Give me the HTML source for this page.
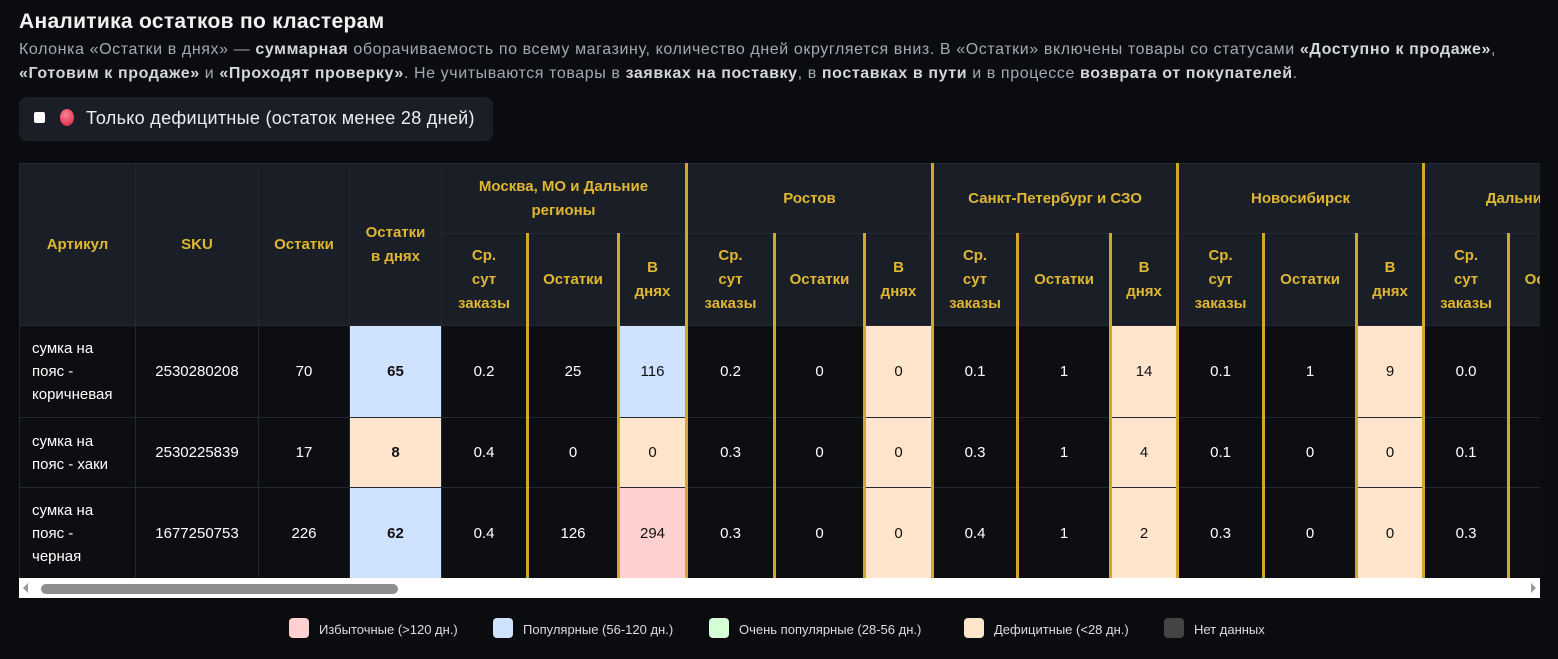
<!DOCTYPE html>
<html><head><meta charset="utf-8"><style>
body{margin:0;width:1558px;height:659px;background:#0b0c10;font-family:"Liberation Sans","Noto Sans CJK SC",sans-serif;color:#fff;overflow:hidden;position:relative}
h1{position:absolute;left:19px;top:10px;margin:0;font-size:21px;letter-spacing:0.3px;font-weight:bold;color:#f2f2f2;white-space:nowrap}
.desc{position:absolute;left:19px;top:38px;width:1540px;font-size:16px;letter-spacing:0.6px;line-height:24px;color:#a3a8b3;white-space:nowrap}
.desc b{color:#d3d6dc}
.filter{position:absolute;left:19px;top:97px;width:474px;height:44px;background:#1b1e26;border-radius:8px;font-size:18px;letter-spacing:0.3px;color:#eee}
.cb{position:absolute;left:15px;top:15px;width:11px;height:11px;background:#fff;border-radius:2px}
.dot{position:absolute;left:41px;top:12px;width:14px;height:17px;border-radius:50%;background:radial-gradient(circle at 40% 35%,#ff8090,#d0203a)}
.filter span{position:absolute;left:67px;top:11px;white-space:nowrap}
.wrap{position:absolute;left:19px;top:163px;width:1521px;height:415px;overflow:hidden;background:#0c0e12}
table{border-collapse:collapse;table-layout:fixed;position:absolute;left:0;top:0;width:1649px}
td,th{border:1px solid #232832;text-align:center;padding:0;font-size:15px}
th{background:#1a1e26;color:#e0b732;font-size:15px;font-weight:bold;line-height:24px}
td{color:#fff;background:#0c0e12}
td.l{text-align:left;padding-left:12px;line-height:23px}
.g{border-left:3px solid #d4a72c}
.b{background:#cfe2ff;color:#111}.p{background:#ffe5cc;color:#111}.r{background:#ffd0d0;color:#111}
.bold{font-weight:bold}
.sb{position:absolute;left:19px;top:578px;width:1521px;height:20px;background:#fff}
.thumb{position:absolute;left:22px;top:6px;width:357px;height:10px;background:#8e8e8e;border-radius:5px}
.legend{position:absolute;top:618px;left:0;width:1558px;font-size:13px;color:#ddd}
.li{position:absolute;top:0}
.sw{position:absolute;top:0;width:20px;height:20px;border-radius:4px}
.li span{position:absolute;left:30px;top:4px;white-space:nowrap}
</style></head><body>
<h1>Аналитика остатков по кластерам</h1>
<div class="desc">Колонка «Остатки в днях» — <b>суммарная</b> оборачиваемость по всему магазину, количество дней округляется вниз. В «Остатки» включены товары со статусами <b>«Доступно к продаже»</b>,<br><b>«Готовим к продаже»</b> и <b>«Проходят проверку»</b>. Не учитываются товары в <b>заявках на поставку</b>, в <b>поставках в пути</b> и в процессе <b>возврата от покупателей</b>.</div>
<div class="filter"><div class="cb"></div><div class="dot"></div><span>Только дефицитные (остаток менее 28 дней)</span></div>
<div class="wrap"><table>
<colgroup><col style="width:116px"><col style="width:123px"><col style="width:91px"><col style="width:92px"><col style="width:86px"><col style="width:91px"><col style="width:68px"><col style="width:88px"><col style="width:90px"><col style="width:68px"><col style="width:85px"><col style="width:93px"><col style="width:67px"><col style="width:86px"><col style="width:93px"><col style="width:67px"><col style="width:85px"><col style="width:92px"><col style="width:68px"></colgroup>
<tr style="height:70px"><th rowspan="2">Артикул</th><th rowspan="2">SKU</th><th rowspan="2">Остатки</th><th rowspan="2">Остатки<br>в днях</th><th colspan="3">Москва, МО и Дальние<br>регионы</th><th colspan="3" class="g">Ростов</th><th colspan="3" class="g">Санкт-Петербург и СЗО</th><th colspan="3" class="g">Новосибирск</th><th colspan="3" class="g">Дальний Восток</th></tr>
<tr style="height:92px"><th>Ср.<br>сут<br>заказы</th><th class="g">Остатки</th><th class="g">В<br>днях</th><th class="g">Ср.<br>сут<br>заказы</th><th class="g">Остатки</th><th class="g">В<br>днях</th><th class="g">Ср.<br>сут<br>заказы</th><th class="g">Остатки</th><th class="g">В<br>днях</th><th class="g">Ср.<br>сут<br>заказы</th><th class="g">Остатки</th><th class="g">В<br>днях</th><th class="g">Ср.<br>сут<br>заказы</th><th class="g">Остатки</th><th class="g">В<br>днях</th></tr>
<tr style="height:92px"><td class="l">сумка на<br>пояс -<br>коричневая</td><td>2530280208</td><td>70</td><td class="b bold">65</td><td>0.2</td><td class="g">25</td><td class="g b">116</td><td class="g">0.2</td><td class="g">0</td><td class="g p">0</td><td class="g">0.1</td><td class="g">1</td><td class="g p">14</td><td class="g">0.1</td><td class="g">1</td><td class="g p">9</td><td class="g">0.0</td><td class="g"></td><td class="g"></td></tr>
<tr style="height:70px"><td class="l">сумка на<br>пояс - хаки</td><td>2530225839</td><td>17</td><td class="p bold">8</td><td>0.4</td><td class="g">0</td><td class="g p">0</td><td class="g">0.3</td><td class="g">0</td><td class="g p">0</td><td class="g">0.3</td><td class="g">1</td><td class="g p">4</td><td class="g">0.1</td><td class="g">0</td><td class="g p">0</td><td class="g">0.1</td><td class="g"></td><td class="g"></td></tr>
<tr style="height:92px"><td class="l">сумка на<br>пояс -<br>черная</td><td>1677250753</td><td>226</td><td class="b bold">62</td><td>0.4</td><td class="g">126</td><td class="g r">294</td><td class="g">0.3</td><td class="g">0</td><td class="g p">0</td><td class="g">0.4</td><td class="g">1</td><td class="g p">2</td><td class="g">0.3</td><td class="g">0</td><td class="g p">0</td><td class="g">0.3</td><td class="g"></td><td class="g"></td></tr>
</table></div>
<div class="sb"><div class="thumb"></div><div style="position:absolute;left:4px;top:5px;width:0;height:0;border-top:5px solid transparent;border-bottom:5px solid transparent;border-right:5px solid #999"></div><div style="position:absolute;right:4px;top:5px;width:0;height:0;border-top:5px solid transparent;border-bottom:5px solid transparent;border-left:5px solid #999"></div></div>
<div class="legend">
<div class="li" style="left:289px"><div class="sw" style="background:#ffd0d0"></div><span>Избыточные (&gt;120 дн.)</span></div>
<div class="li" style="left:493px"><div class="sw" style="background:#cfe2ff"></div><span>Популярные (56-120 дн.)</span></div>
<div class="li" style="left:709px"><div class="sw" style="background:#d4ffd4"></div><span>Очень популярные (28-56 дн.)</span></div>
<div class="li" style="left:964px"><div class="sw" style="background:#ffe5cc"></div><span>Дефицитные (&lt;28 дн.)</span></div>
<div class="li" style="left:1164px"><div class="sw" style="background:#444"></div><span>Нет данных</span></div>
</div>
</body></html>
